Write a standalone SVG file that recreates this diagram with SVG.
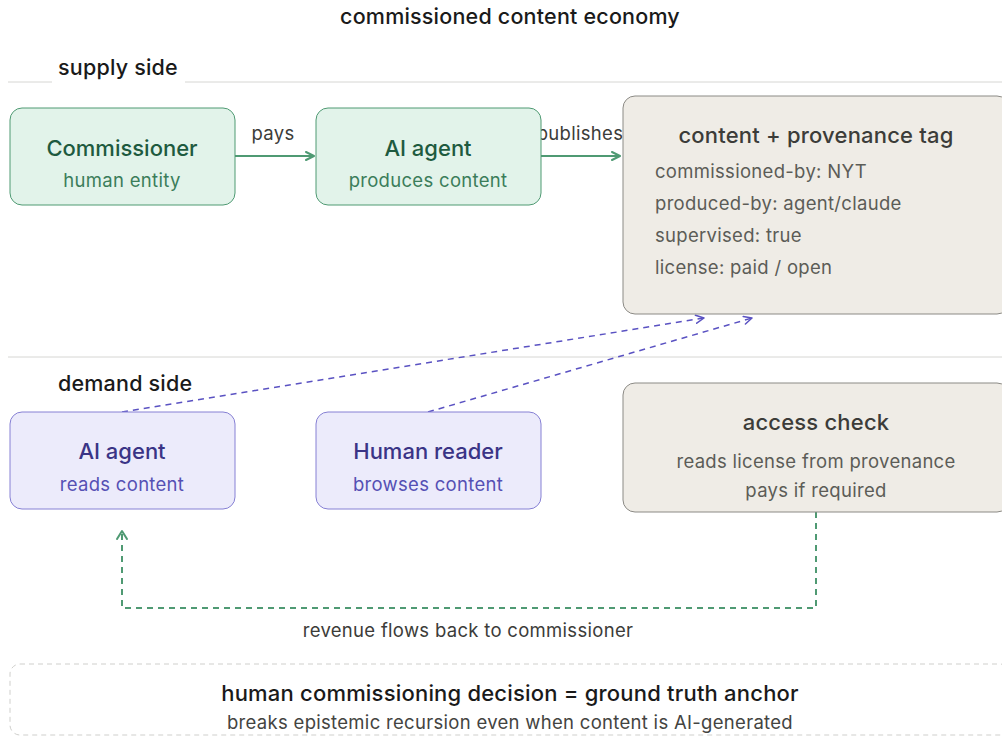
<svg xmlns="http://www.w3.org/2000/svg" width="1002" height="737" viewBox="0 0 1002 737">
<defs>
<style>
text{font-family:Inter,"Noto Sans","DejaVu Sans",sans-serif;}
.title{font-size:21.5px;font-weight:500;fill:#1a1a1a;text-anchor:middle;letter-spacing:0.2px;}
.sec{font-size:21.5px;font-weight:500;fill:#1a1a1a;letter-spacing:0.2px;}
.divider{stroke:#d6d6d3;stroke-width:1;}
.gbox{fill:#e2f3ea;stroke:#4f9a73;stroke-width:1;}
.pbox{fill:#ecebfb;stroke:#8680d4;stroke-width:1;}
.nbox{fill:#efece6;stroke:#8b8a85;stroke-width:1;}
.gt{font-size:22px;font-weight:500;fill:#1e5a3f;text-anchor:middle;}
.gs{font-size:18.5px;fill:#3b7d5a;text-anchor:middle;letter-spacing:0.3px;}
.pt{font-size:22px;font-weight:500;fill:#3a3486;text-anchor:middle;}
.ps{font-size:18.5px;fill:#5550b4;text-anchor:middle;letter-spacing:0.3px;}
.nt{font-size:22px;font-weight:500;fill:#3c3c39;text-anchor:middle;letter-spacing:0.2px;}
.ns{font-size:18.5px;fill:#5c5c57;letter-spacing:0.3px;}
.nsc{font-size:18.5px;fill:#5c5c57;text-anchor:middle;letter-spacing:0.3px;}
.elabel{font-size:18.5px;fill:#3c3c39;text-anchor:middle;letter-spacing:0.3px;}
.garrow{fill:none;stroke:#4f9a73;stroke-width:2;}
.gdash{fill:none;stroke:#4f9a73;stroke-width:2;stroke-dasharray:6 5;}
.pdash{fill:none;stroke:#5a52c2;stroke-width:1.5;stroke-dasharray:6 5;}
.bt{font-size:22px;font-weight:500;fill:#1a1a1a;text-anchor:middle;letter-spacing:0.2px;}
.bs{font-size:18.5px;fill:#444441;text-anchor:middle;letter-spacing:0.3px;}
</style>
<marker id="ag" viewBox="0 0 10 10" refX="9" refY="5" markerWidth="10" markerHeight="10" markerUnits="userSpaceOnUse" orient="auto">
<path d="M1 1 L9 5 L1 9" fill="none" stroke="#4f9a73" stroke-width="2" stroke-linecap="round" stroke-linejoin="round"/>
</marker>
<marker id="ap" viewBox="0 0 10 10" refX="9" refY="5" markerWidth="10" markerHeight="10" markerUnits="userSpaceOnUse" orient="auto">
<path d="M1 1 L9 5 L1 9" fill="none" stroke="#5a52c2" stroke-width="1.5" stroke-linecap="round" stroke-linejoin="round"/>
</marker>
</defs>
<rect width="1002" height="737" fill="#ffffff"/>

<text class="title" x="510" y="24">commissioned content economy</text>

<g id="supply-section">
<line class="divider" x1="8" y1="82" x2="52" y2="82"/>
<line class="divider" x1="185" y1="82" x2="1002" y2="82"/>
<text class="sec" x="58" y="75">supply side</text>
</g>

<g id="demand-section">
<line class="divider" x1="8" y1="357" x2="1002" y2="357"/>
<text class="sec" x="58" y="391">demand side</text>
</g>

<g id="connectors">
<line class="garrow" x1="235" y1="156" x2="314" y2="156" marker-end="url(#ag)"/>
<text class="elabel" x="273" y="140">pays</text>
<line class="garrow" x1="541" y1="156" x2="620" y2="156" marker-end="url(#ag)"/>
<text class="elabel" x="580" y="140">publishes</text>
<line class="pdash" x1="122" y1="412" x2="704" y2="318" marker-end="url(#ap)"/>
<line class="pdash" x1="428" y1="412" x2="752" y2="318" marker-end="url(#ap)"/>
<path class="gdash" d="M816 512 V608 H122 V531"/>
<path d="M117 539 L122 531 L127 539" fill="none" stroke="#4f9a73" stroke-width="2" stroke-linecap="round" stroke-linejoin="round"/>
<text class="elabel" x="468" y="637">revenue flows back to commissioner</text>
</g>

<g id="commissioner">
<rect class="gbox" x="10" y="108" width="225" height="97" rx="12"/>
<text class="gt" x="122" y="156">Commissioner</text>
<text class="gs" x="122" y="187">human entity</text>
</g>

<g id="ai-agent-producer">
<rect class="gbox" x="316" y="108" width="225" height="97" rx="12"/>
<text class="gt" x="428" y="156">AI agent</text>
<text class="gs" x="428" y="187">produces content</text>
</g>

<g id="content-provenance">
<rect class="nbox" x="623" y="96" width="386" height="218" rx="12"/>
<text class="nt" x="816" y="143">content + provenance tag</text>
<text class="ns" x="655" y="178">commissioned-by: NYT</text>
<text class="ns" x="655" y="210">produced-by: agent/claude</text>
<text class="ns" x="655" y="242">supervised: true</text>
<text class="ns" x="655" y="274">license: paid / open</text>
</g>

<g id="ai-agent-reader">
<rect class="pbox" x="10" y="412" width="225" height="97" rx="12"/>
<text class="pt" x="122" y="459">AI agent</text>
<text class="ps" x="122" y="491">reads content</text>
</g>

<g id="human-reader">
<rect class="pbox" x="316" y="412" width="225" height="97" rx="12"/>
<text class="pt" x="428" y="459">Human reader</text>
<text class="ps" x="428" y="491">browses content</text>
</g>

<g id="access-check">
<rect class="nbox" x="623" y="383" width="386" height="129" rx="12"/>
<text class="nt" x="816" y="430">access check</text>
<text class="nsc" x="816" y="468">reads license from provenance</text>
<text class="nsc" x="816" y="497">pays if required</text>
</g>

<g id="anchor-note">
<rect x="10" y="664" width="1000" height="71" rx="10" fill="none" stroke="#cfcfcc" stroke-width="1" stroke-dasharray="5 4"/>
<text class="bt" x="510" y="701">human commissioning decision = ground truth anchor</text>
<text class="bs" x="510" y="729">breaks epistemic recursion even when content is AI-generated</text>
</g>
</svg>
